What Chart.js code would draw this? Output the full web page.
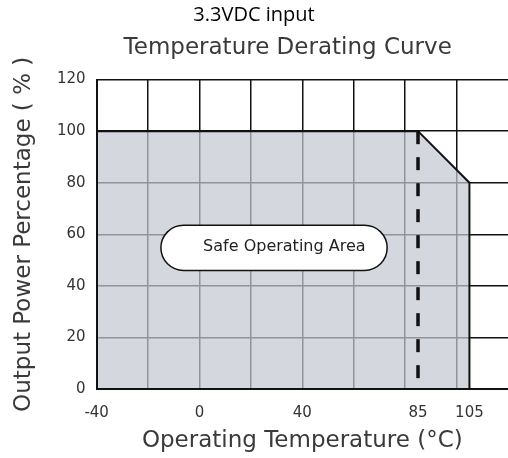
<!DOCTYPE html>
<html>
<head>
<meta charset="utf-8">
<script src="https://cdn.jsdelivr.net/npm/chart.js"></script>
<style>
  html, body { margin: 0; padding: 0; background: #fff; }
  #wrap { width: 508px; height: 458px; }
</style>
</head>
<body>
<div id="wrap"><canvas id="myChart"></canvas></div>
<script>
// derating curve, 3.3VDC input
const tempC = [-40, 85, 105, 105];
const powerPct = [100, 100, 80, 0];

// dashed limit line at 85 C
const limitTemp = [85, 85];
const limitPct = [100, 0];

const xTickValues = [-40, 0, 40, 85, 105];
const xGridValues = [-40, -20, 0, 20, 40, 60, 80, 100];
const yTickValues = [0, 20, 40, 60, 80, 100, 120];

const areaLabel = 'Safe Operating Area';

const ink = '#111';
const textGrey = '#3a3a3a';

// white pill with the label, placed in data units
const pillPlugin = {
  id: 'pill',
  afterDatasetsDraw(chart, args, opts) {
    const { ctx, scales } = chart;
    const x1 = scales.x.getPixelForValue(opts.x1);
    const x2 = scales.x.getPixelForValue(opts.x2);
    const y1 = scales.y.getPixelForValue(opts.y2);
    const y2 = scales.y.getPixelForValue(opts.y1);
    const h = y2 - y1;
    ctx.save();
    ctx.beginPath();
    ctx.roundRect(x1, y1, x2 - x1, h, h / 2);
    ctx.fillStyle = '#fff';
    ctx.fill();
    ctx.lineWidth = 1.5;
    ctx.strokeStyle = ink;
    ctx.stroke();
    ctx.fillStyle = '#222';
    ctx.font = '16px "DejaVu Sans"';
    ctx.textAlign = 'center';
    ctx.textBaseline = 'middle';
    ctx.fillText(areaLabel, scales.x.getPixelForValue(opts.tx), scales.y.getPixelForValue(opts.ty));
    ctx.restore();
  }
};

const ctx = document.getElementById('myChart');

new Chart(ctx, {
  type: 'line',
  data: {
    datasets: [
      {
        data: limitTemp.map((x, i) => ({ x: x, y: limitPct[i] })),
        borderColor: ink,
        borderWidth: 3.5,
        borderDash: [13, 13],
        pointRadius: 0,
        fill: false
      },
      {
        data: tempC.map((x, i) => ({ x: x, y: powerPct[i] })),
        borderColor: ink,
        borderWidth: 2,
        backgroundColor: 'rgba(197, 200, 210, 0.72)',
        pointRadius: 0,
        tension: 0,
        fill: 'origin'
      }
    ]
  },
  options: {
    responsive: true,
    maintainAspectRatio: false,
    animation: false,
    layout: { padding: { left: 0, right: 0, top: 0, bottom: 0 } },
    plugins: {
      legend: { display: false },
      tooltip: { enabled: false },
      title: {
        display: true,
        text: '3.3VDC input',
        color: '#000',
        font: { family: 'Open Sans', size: 20, weight: 'normal' },
        padding: { top: 3, bottom: 7 }
      },
      subtitle: {
        display: true,
        fullSize: false,
        // trailing spaces nudge it left, as in the original
        text: 'Temperature Derating Curve\u00a0\u00a0\u00a0\u00a0',
        color: textGrey,
        font: { family: 'DejaVu Sans', size: 23 },
        padding: { top: 0, bottom: 18 }
      },
      pill: { x1: -15, x2: 73, y1: 46, y2: 63.5, tx: 33, ty: 55 }
    },
    scales: {
      x: {
        type: 'linear',
        min: -40,
        max: 120,
        afterBuildTicks: (axis) => {
          const vals = [...new Set(xGridValues.concat(xTickValues))].sort((a, b) => a - b);
          axis.ticks = vals.map(v => ({ value: v }));
        },
        ticks: {
          autoSkip: false,
          maxRotation: 0,
          padding: 15,
          color: '#333',
          font: { family: 'DejaVu Sans', size: 15 },
          callback: (v) => xTickValues.includes(v) ? String(v) : ''
        },
        grid: {
          drawTicks: false,
          lineWidth: 1.5,
          color: (c) => (c.tick && xGridValues.includes(c.tick.value)) ? ink : 'rgba(0,0,0,0)'
        },
        border: { color: ink, width: 2, z: 1 },
        title: {
          display: true,
          text: 'Operating Temperature (°C)',
          color: textGrey,
          font: { family: 'DejaVu Sans', size: 23, lineHeight: 1 },
          padding: { top: -7, bottom: 5 }
        }
      },
      y: {
        min: 0,
        max: 120,
        afterBuildTicks: (axis) => {
          axis.ticks = yTickValues.map(v => ({ value: v }));
        },
        ticks: {
          padding: 11,
          color: '#333',
          font: { family: 'DejaVu Sans', size: 15 }
        },
        grid: { drawTicks: false, lineWidth: 1.5, color: ink },
        border: { color: ink, width: 2, z: 1 },
        title: {
          display: true,
          text: 'Output Power Percentage ( % )',
          color: textGrey,
          font: { family: 'DejaVu Sans', size: 23, lineHeight: 1 },
          padding: { top: 13, bottom: 10 }
        }
      }
    }
  },
  plugins: [pillPlugin]
});
</script>
</body>
</html>
